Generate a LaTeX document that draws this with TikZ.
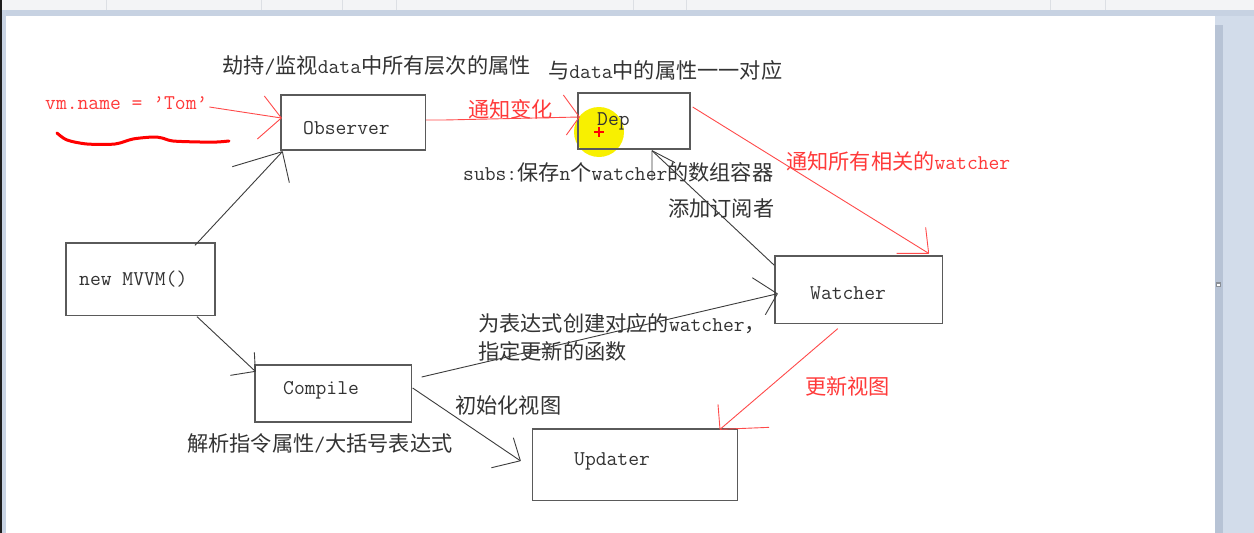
\documentclass[tikz,border=0pt]{standalone}
\usepackage{fontspec}
\newfontfamily\zhf{Noto Sans CJK SC}
\usetikzlibrary{calc}
\newcommand\z[1]{{\zhf\fontsize{21.2}{24}\selectfont #1}}
\definecolor{ink}{HTML}{333333}
\definecolor{linec}{HTML}{3C3C3C}
\definecolor{boxc}{HTML}{5A5A5A}
\definecolor{redt}{HTML}{FF3A3A}
\definecolor{redl}{HTML}{FF4A4A}
\definecolor{squig}{HTML}{FF0000}
\definecolor{yel}{HTML}{F8F000}
\definecolor{bgblue}{HTML}{D2DCEA}
\definecolor{toolbar}{HTML}{F3F4F6}
\definecolor{sepc}{HTML}{DCDFE4}
\definecolor{bandc}{HTML}{C7D2E2}
\definecolor{shadowc}{HTML}{B7C3D5}
\definecolor{edgec}{HTML}{1E1E1E}
\definecolor{edgeblue}{HTML}{C9D4E4}
\definecolor{handlec}{HTML}{8A8F96}
\begin{document}
\begin{tikzpicture}[x=1pt,y=-1pt,
  box/.style={draw=boxc,line width=1.3pt,inner sep=0},
  lbl/.style={inner sep=0,anchor=west,text=ink,font=\fontsize{21}{24}\selectfont\ttfamily},
  rlbl/.style={lbl,text=redt},
  bl/.style={draw=linec,line width=0.9pt},
  rl/.style={draw=redl,line width=0.9pt}]
\useasboundingbox (0,0) rectangle (1254,533);
% screenshot frame
\fill[bgblue] (0,0) rectangle (1254,533);
\fill[toolbar] (0,0) rectangle (1254,10);
\foreach \x in {106,261,342,396,633,686,1050,1105} \draw[sepc] (\x,0) -- (\x,10);
\fill[bandc] (0,10) rectangle (1254,16);
\fill[shadowc] (1215,25) rectangle (1223,533);
\fill[edgeblue] (2,10) rectangle (6,533);
\fill[white] (6,16) rectangle (1215,533);
\fill[edgec] (0,0) rectangle (2,533);
\fill[handlec] (1216,282) rectangle (1221,287);
\fill[white] (1217,283.5) rectangle (1220,285.5);
% cursor highlight
\fill[yel] (599,132) circle (25pt);
% boxes
\node[box,minimum width=144.5pt,minimum height=55pt] (obs) at (353.25,122.5) {};
\node[box,minimum width=112pt,minimum height=56pt] (dep) at (634,121) {};
\node[box,minimum width=167.5pt,minimum height=67.5pt] (wat) at (858.75,289.75) {};
\node[box,minimum width=149pt,minimum height=72.5pt] (mvvm) at (140.5,279.25) {};
\node[box,minimum width=156.5pt,minimum height=57pt] (comp) at (333.25,393.5) {};
\node[box,minimum width=205pt,minimum height=71.5pt] (upd) at (635,464.75) {};
\draw[squig,line width=1.6pt] (594,132) -- (604,132) (599,127) -- (599,137);
% texts
\node[lbl] (t1) at (222,65) {\z{劫持}/\z{监视}data\z{中所有层次的属性}};
\node[lbl] (t2) at (548,70) {\z{与}data\z{中的属性一一对应}};
\node[rlbl] (vmt) at (45,103) {vm.name = ’Tom’};
\node[lbl] (obst) at (303,128.5) {Observer};
\node[rlbl] (t3) at (468,109) {\z{通知变化}};
\node[lbl] (dept) at (597,121.5) {Dep};
\node[lbl] (t4) at (463,172) {subs:\z{保存}n\z{个}watcher\z{的数组容器}};
\node[rlbl] (t5) at (786,161) {\z{通知所有相关的}watcher};
\node[lbl] (t6) at (668,208) {\z{添加订阅者}};
\node[lbl] (watt) at (810,293.5) {Watcher};
\node[lbl] (mvvmt) at (79,279.5) {new MVVM()};
\node[lbl] (t7) at (478,324) {\z{为表达式创建对应的}watcher\z{，}};
\node[lbl] (t8) at (478,351) {\z{指定更新的函数}};
\node[lbl] (compt) at (283,390.5) {Compile};
\node[lbl] (t9) at (455,405) {\z{初始化视图}};
\node[lbl] (t10) at (187,443) {\z{解析指令属性}/\z{大括号表达式}};
\node[rlbl] (t11) at (805,386) {\z{更新视图}};
\node[lbl] (updt) at (574,461.5) {Updater};
% red underline squiggle
\draw[squig,line width=3pt,line cap=round,line join=round] plot[smooth] coordinates {(57,133) (67,140) (87,144) (115,144) (133,139) (153,137) (162,138) (173,141) (200,142) (217,142) (229,141)};
% connectors
% A vm.name -> Observer
\coordinate (sA) at ($(obs.west)+(-71,-15.5)$);
\coordinate (tA) at ($(obs.west)+(1,-4.5)$);
\draw[rl] (sA) -- (tA);
\draw[rl] (tA) -- ++(-17,-22) (tA) -- ++(-24,21);
% B new MVVM -> Observer
\coordinate (sB) at ($(mvvm.north)+(54.5,3)$);
\coordinate (tB) at ($(obs.south west)+(2,1)$);
\draw[bl] (sB) -- (tB);
\draw[bl] (tB) -- ++(-50,15) (tB) -- ++(7,31);
% C new MVVM -> Compile
\coordinate (sC) at ($(mvvm.south)+(56.5,0.5)$);
\coordinate (tC) at ($(comp.north west)+(1,7)$);
\draw[bl] (sC) -- (tC);
\draw[bl] (tC) -- ++(-1,-19) (tC) -- ++(-25,4);
% D Observer -> Dep
\coordinate (sD) at ($(obs.east)+(0,-2.5)$);
\coordinate (tD) at ($(dep.west)+(2,-4)$);
\draw[rl] (sD) -- ++(18,0) -- (tD);
\draw[rl] (tD) -- ++(-16,-22) (tD) -- ++(-13,18);
% E Dep -> Watcher
\coordinate (sE) at ($(dep.east)+(2,-14)$);
\coordinate (tE) at ($(wat.north east)+(-14.5,-2)$);
\draw[rl] (sE) -- (tE);
\draw[rl] (tE) -- ++(-3,-26) (tE) -- ++(-32,0);
% F Watcher -> Dep
\coordinate (sF) at ($(wat.north west)+(0,10)$);
\coordinate (tF) at ($(dep.south)+(18,1)$);
\draw[bl] (sF) -- (tF);
\draw[bl] (tF) -- ++(0,30) (tF) -- ++(23,12);
% G Compile -> Watcher
\coordinate (sG) at ($(comp.east)+(9.5,-16.5)$);
\coordinate (tG) at ($(wat.west)+(3,4)$);
\draw[bl] (sG) -- (tG);
\draw[bl] (tG) -- ++(-25,-16) (tG) -- ++(-12,21);
% H Compile -> Updater
\coordinate (sH) at ($(comp.east)+(0.5,-5.5)$);
\coordinate (tH) at ($(upd.west)+(-11.5,-4)$);
\draw[bl] (sH) -- (tH);
\draw[bl] (tH) -- ++(-7,-23) (tH) -- ++(-29,7);
% I Watcher -> Updater
\coordinate (sI) at ($(wat.south)+(-21,4.5)$);
\coordinate (tI) at ($(upd.north)+(85,1)$);
\draw[rl] (sI) -- (tI);
\draw[rl] (tI) -- ++(-2,-25) (tI) -- ++(49,-2);
\end{tikzpicture}
\end{document}
